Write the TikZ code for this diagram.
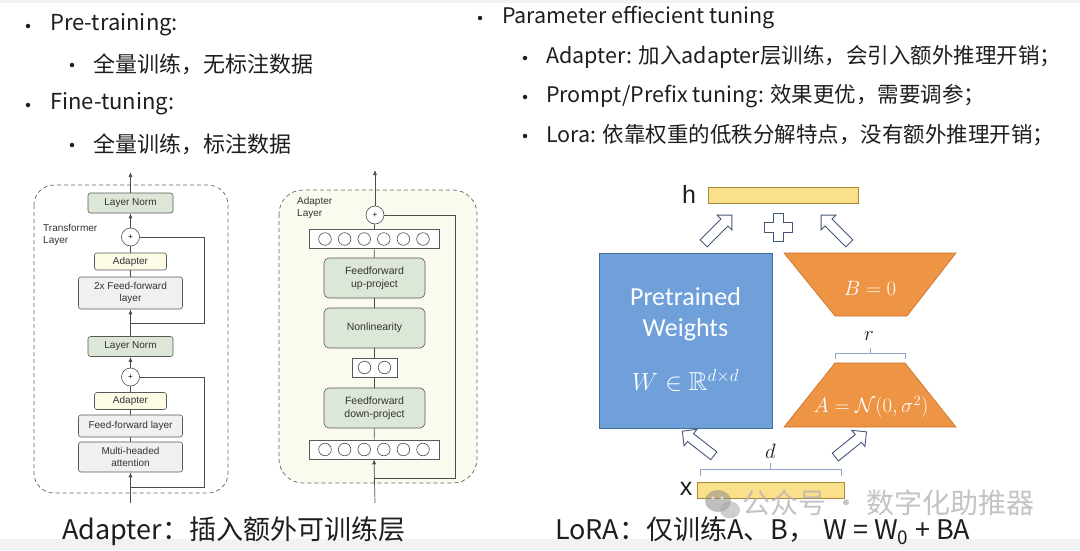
\documentclass[tikz,border=0pt]{standalone}
\usepackage{amsmath,amssymb}
\usepackage{fontspec}
\setmainfont{Noto Sans CJK SC}
\newfontfamily\arialf{Liberation Sans}
\newfontfamily\calf{Carlito}
\usetikzlibrary{arrows.meta,shapes.arrows,calc}
\definecolor{txtc}{HTML}{1E1E1E}
\definecolor{lngreen}{HTML}{DCE7D8}
\definecolor{ffgray}{HTML}{F0F0F0}
\definecolor{adcream}{HTML}{FDFBE6}
\definecolor{adbg}{HTML}{FAFAEE}
\definecolor{lblue}{HTML}{6FA0DA}
\definecolor{lblueb}{HTML}{41719C}
\definecolor{lorange}{HTML}{ED9445}
\definecolor{lorangeb}{HTML}{C86F25}
\definecolor{lyellow}{HTML}{FBE08C}
\definecolor{lyellowb}{HTML}{A88A34}
\definecolor{harrow}{HTML}{44557A}
\definecolor{bracec}{HTML}{8EA4CC}
\definecolor{wmark}{HTML}{B4B4B4}
\begin{document}
\begin{tikzpicture}[x=1pt,y=-1pt,
  txt/.style={anchor=west, inner sep=0, font=\fontsize{22}{26}\selectfont, text=txtc},
  txtr/.style={txt, font=\fontsize{21.5}{26}\selectfont},
  bul/.style={circle, fill=txtc, inner sep=0, minimum size=4.5},
  captxt/.style={anchor=west, inner sep=0, font=\fontsize{27}{32}\selectfont, text=txtc},
  blk/.style={draw=black!65, line width=0.6pt, rounded corners=2.5pt, align=center, inner sep=0,
    font=\arialf\fontsize{10}{11.5}\selectfont, text=black!80},
  lnbox/.style={blk, fill=lngreen, minimum width=85, minimum height=20},
  adbox/.style={blk, fill=adcream, minimum width=72, minimum height=17},
  ffbox/.style={blk, fill=ffgray, minimum width=104},
  gbox/.style={blk, fill=lngreen, minimum width=101, minimum height=40, rounded corners=5pt, font=\arialf\fontsize{10.5}{13}\selectfont},
  rowbox/.style={draw=black!65, line width=0.6pt, fill=white, inner sep=0, minimum height=19},
  pl/.style={circle, draw=black!70, line width=0.6pt, fill=white, minimum size=18, inner sep=0, font=\arialf\fontsize{8}{8}\selectfont},
  ln/.style={draw=black!70, line width=0.7pt},
  arr/.style={ln, -{Latex[length=5pt,width=4pt]}},
  dbox/.style={draw=black!60, line width=0.7pt, dash pattern=on 4pt off 3pt, rounded corners=20pt},
  harr/.style={single arrow, draw=harrow, line width=0.9pt, fill=white, minimum height=40, inner sep=4.5pt, single arrow head extend=5.5pt},
  wtxt/.style={text=white, inner sep=0},
  brc/.style={draw=bracec, line width=0.8pt},
  ybar/.style={draw=lyellowb, line width=0.8pt, fill=lyellow, minimum height=16, inner sep=0}
]
\useasboundingbox (0,0) rectangle (1080,550);
\fill[white] (0,0) rectangle (1080,550);
\fill[black!5] (0,0) rectangle (1080,3);
\fill[black!5] (0,539) rectangle (1080,550);

% ---------- top-left text ----------
\node[bul] (b1) at (28,26) {};
\node[txt] (t1) at (50,25) {Pre-training:};
\node[bul] (b2) at (72,65) {};
\node[txt] (t2) at (93,64) {全量训练，无标注数据};
\node[bul] (b3) at (28,105) {};
\node[txt] (t3) at (50,104) {Fine-tuning:};
\node[bul] (b4) at (72,145) {};
\node[txt] (t4) at (93,144) {全量训练，标注数据};

% ---------- top-right text ----------
\node[bul] (b5) at (480,18) {};
\node[txtr] (t5) at (502,17) {Parameter effiecient tuning};
\node[bul] (b6) at (525,58) {};
\node[txtr] (t6) at (546,57) {Adapter: 加入adapter层训练，会引入额外推理开销；};
\node[bul] (b7) at (525,97) {};
\node[txtr] (t7) at (546,96) {Prompt/Prefix tuning: 效果更优，需要调参；};
\node[bul] (b8) at (525,136) {};
\node[txtr] (t8) at (546,135) {Lora: 依靠权重的低秩分解特点，没有额外推理开销；};

% ---------- Transformer layer with adapters ----------
\draw[dbox] (34,185) rectangle (228,493);
\node[anchor=north west, inner sep=0, align=left, font=\arialf\fontsize{10}{12}\selectfont, text=black!80] (tl) at (43,224) {Transformer\\Layer};
\node[lnbox] (LN1) at (130.5,203) {Layer Norm};
\node[pl] (p1) at (130.5,237) {+};
\node[adbox] (ad1) at (130.5,261.5) {Adapter};
\node[ffbox, minimum height=32] (ff2) at (130.5,293) {2x Feed-forward\\layer};
\node[lnbox] (LN2) at (130.5,346.5) {Layer Norm};
\node[pl] (p2) at (130.5,377) {+};
\node[adbox] (ad2) at (130.5,401) {Adapter};
\node[ffbox, minimum height=22] (ff1) at (130.5,426) {Feed-forward layer};
\node[ffbox, minimum height=30] (mha) at (130.5,457) {Multi-headed\\attention};
\coordinate (in1) at (130.5,503);
\coordinate (out1) at (130.5,172);
\coordinate (r2) at (130.5,487);
\coordinate (r1) at (130.5,323);
\draw[arr] (in1) -- (mha.south);
\draw[ln] (mha) -- (ff1);
\draw[ln] (ff1) -- (ad2);
\draw[ln] (ad2) -- (p2);
\draw[arr] (p2) -- (LN2.south);
\draw[arr] (LN2) -- (ff2.south);
\draw[ln] (ff2) -- (ad1);
\draw[ln] (ad1) -- (p1);
\draw[arr] (p1) -- (LN1.south);
\draw[arr] (LN1) -- (out1);
\draw[ln] (r2) -| ($(p2.east)+(65,0)$) -- (p2.east);
\draw[ln] (r1) -| ($(p1.east)+(65,0)$) -- (p1.east);

% ---------- Adapter layer ----------
\draw[dbox, fill=adbg, rounded corners=24pt] (279,190) rectangle (477,483);
\node[anchor=north west, inner sep=0, align=left, font=\arialf\fontsize{10}{12}\selectfont, text=black!80] (al) at (297,197) {Adapter\\Layer};
\node[pl] (pa) at (375,215) {+};
\node[rowbox, minimum width=130] (rowT) at (374,239) {};
\node[gbox] (up) at (374.5,278) {Feedforward\\up-project};
\node[gbox] (nl) at (374.5,328) {Nonlinearity};
\node[rowbox, minimum width=45] (row2) at (374.5,367.5) {};
\node[gbox] (down) at (374.5,408) {Feedforward\\down-project};
\node[rowbox, minimum width=130] (rowB) at (374,449.5) {};
\foreach \i in {0,...,5} {
  \draw[black!70, line width=0.6pt] ($(rowT.center)+(-49+19.6*\i,0)$) circle (6.3);
  \draw[black!70, line width=0.6pt] ($(rowB.center)+(-49+19.6*\i,0)$) circle (6.3);
}
\draw[black!70, line width=0.6pt] ($(row2.center)+(-10,0)$) circle (6.3);
\draw[black!70, line width=0.6pt] ($(row2.center)+(10,0)$) circle (6.3);
\coordinate (in2) at (375,503);
\coordinate (out2) at (375,170);
\coordinate (r3) at (375,478);
\draw[arr] (in2) -- (rowB.south);
\draw[ln] (rowB) -- (down);
\draw[ln] (down) -- (row2);
\draw[ln] (row2) -- (nl);
\draw[ln] (nl) -- (up);
\draw[ln] (up) -- (rowT);
\draw[ln] (rowT) -- (pa);
\draw[arr] (pa) -- (out2);
\draw[ln] (r3) -| ($(pa.east)+(71,0)$) -- (pa.east);

% ---------- LoRA ----------
\node[ybar, minimum width=150] (hbar) at (783,195) {};
\node[inner sep=0, font=\arialf\fontsize{25}{25}\selectfont, text=txtc] (hl) at (689,194) {h};
\node[ybar, minimum width=147] (xbar) at (770.5,490) {};
\node[inner sep=0, font=\arialf\fontsize{25}{25}\selectfont, text=txtc] (xl) at (686,489) {x};

\node[draw=lblueb, line width=0.8pt, fill=lblue, minimum width=173, minimum height=175, inner sep=0] (W) at (685.5,340.5) {};
\node[wtxt, font=\calf\fontsize{26}{28}\selectfont] (pw1) at (685.5,297) {Pretrained};
\node[wtxt, font=\calf\fontsize{26}{28}\selectfont] (pw2) at (685.5,330) {Weights};
\node[wtxt, font=\fontsize{26}{26}\selectfont] (pw3) at (685.5,380) {$W\in\mathbb{R}^{d\times d}$};

\draw[draw=lorangeb, line width=0.6pt, fill=lorange] (784,253) -- (956,253) -- (907,316) -- (835,316) -- cycle;
\draw[draw=lorangeb, line width=0.6pt, fill=lorange] (835,363) -- (905,363) -- (956,427) -- (784,427) -- cycle;
\node[wtxt, font=\fontsize{22}{22}\selectfont] (Bt) at (870,288) {$B=0$};
\node[wtxt, font=\fontsize{22}{22}\selectfont] (At) at (871,407) {$A=\mathcal{N}(0,\sigma^2)$};

\draw[brc] (835,359) -- (835,353) -- (905,353) -- (905,359);
\draw[brc] (870,353) -- (870,348);
\node[inner sep=0, font=\fontsize{21}{21}\selectfont, text=txtc] (rl) at (869,336) {$r$};
\draw[brc] (700,476) -- (700,469) -- (841,469) -- (841,476);
\draw[brc] (770.5,469) -- (770.5,463);
\node[inner sep=0, font=\fontsize{21}{21}\selectfont, text=txtc] (dl) at (770.5,451) {$d$};

\node[harr, rotate=45] (a1) at (716,231) {};
\node[harr, rotate=135] (a2) at (837,231) {};
\node[harr, rotate=142] (a3) at (700,445) {};
\node[harr, rotate=39] (a4) at (849,446) {};
\draw[harrow, line width=0.9pt, fill=white]
  (773,213) -- (783,213) -- (783,222) -- (792,222) -- (792,232) -- (783,232) -- (783,241)
  -- (773,241) -- (773,232) -- (764,232) -- (764,222) -- (773,222) -- cycle;

% ---------- watermark ----------
\begin{scope}[opacity=0.55]
\fill[black!45] (718,501) ellipse (13 and 11);
\fill[black!35] (730,510) ellipse (10 and 8.5);
\fill[white] (713,498) circle (1.8);
\fill[white] (722,498) circle (1.8);
\end{scope}
\node[anchor=west, inner sep=0, font=\fontsize{28}{30}\selectfont, text=wmark, opacity=0.8] (wm) at (742,503) {公众号 · 数字化助推器};

% ---------- captions ----------
\node[captxt] (c1) at (62,531) {Adapter：插入额外可训练层};
\node[captxt] (c2) at (555,531) {LoRA：仅训练A、B，\hspace{8pt}W = W\textsubscript{0} + BA};
\end{tikzpicture}
\end{document}
